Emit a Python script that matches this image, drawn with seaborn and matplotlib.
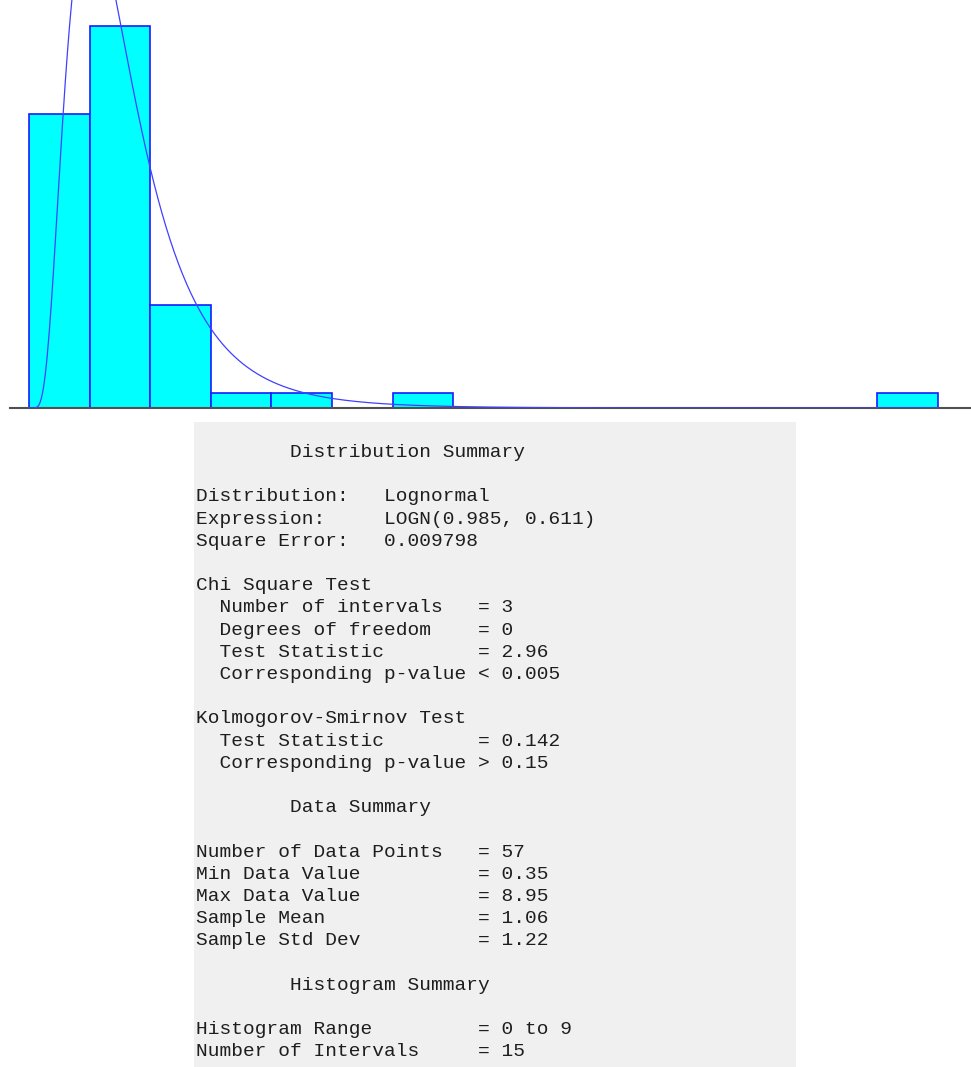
import numpy as np
import pandas as pd
import seaborn as sns
import matplotlib.pyplot as plt
from matplotlib.patches import Rectangle

# Histogram: 15 intervals over 0..9 (counts)
bin_edges = np.linspace(0, 9, 16)
bin_counts = [20, 26, 7, 1, 1, 0, 1, 0, 0, 0, 0, 0, 0, 0, 1]
n_points = 57

# Fitted distribution LOGN(mean, std)
logn_mean = 0.985
logn_std = 0.611

summary_lines = [
    "        Distribution Summary",
    "",
    "Distribution:   Lognormal",
    "Expression:     LOGN(0.985, 0.611)",
    "Square Error:   0.009798",
    "",
    "Chi Square Test",
    "  Number of intervals   = 3",
    "  Degrees of freedom    = 0",
    "  Test Statistic        = 2.96",
    "  Corresponding p-value < 0.005",
    "",
    "Kolmogorov-Smirnov Test",
    "  Test Statistic        = 0.142",
    "  Corresponding p-value > 0.15",
    "",
    "        Data Summary",
    "",
    "Number of Data Points   = 57",
    "Min Data Value          = 0.35",
    "Max Data Value          = 8.95",
    "Sample Mean             = 1.06",
    "Sample Std Dev          = 1.22",
    "",
    "        Histogram Summary",
    "",
    "Histogram Range         = 0 to 9",
    "Number of Intervals     = 15",
]

centers = (bin_edges[:-1] + bin_edges[1:]) / 2
df = pd.DataFrame({"x": centers, "n": bin_counts})

# lognormal pdf scaled to counts per interval
sig2 = np.log(1 + (logn_std / logn_mean) ** 2)
mu = np.log(logn_mean) - sig2 / 2
xs = np.linspace(0.01, 9, 900)
pdf = np.exp(-(np.log(xs) - mu) ** 2 / (2 * sig2)) / (xs * np.sqrt(2 * np.pi * sig2))
curve = pd.DataFrame({"x": xs, "y": pdf * n_points * (bin_edges[1] - bin_edges[0])})

W, H = 971, 1067
fig = plt.figure(figsize=(W / 100, H / 100), dpi=100)
fig.patch.set_facecolor("white")

ax = fig.add_axes([10 / W, (H - 408) / H, 960 / W, 408 / H])
sns.histplot(data=df, x="x", weights="n", bins=15, binrange=(0, 9),
             color="#00ffff", edgecolor="#1a1aff", linewidth=1.2, alpha=1, ax=ax)
sns.lineplot(data=curve, x="x", y="y", color="#4040ff", linewidth=0.9, ax=ax)
ax.axhline(0, color="#505050", linewidth=1.5, clip_on=False, zorder=1)
ax.set_xlim(-19 / 101, 9 + 32 / 101)
ax.set_ylim(0, 27.75)
ax.set_xticks([])
ax.set_yticks([])
ax.set_xlabel("")
ax.set_ylabel("")
for s in ax.spines.values():
    s.set_visible(False)

# summary panel
fig.patches.append(Rectangle((194 / W, 0), (796 - 194) / W, (H - 422) / H,
                             transform=fig.transFigure, facecolor="#f0f0f0",
                             edgecolor="none", zorder=0))
for i, line in enumerate(summary_lines):
    if not line:
        continue
    y = 457 + 22.2 * i
    fig.text(196 / W, 1 - y / H, line, family="Liberation Mono", fontsize=14,
             color="#1e1e1e", va="baseline", ha="left")

fig.savefig("out.png", dpi=100)
